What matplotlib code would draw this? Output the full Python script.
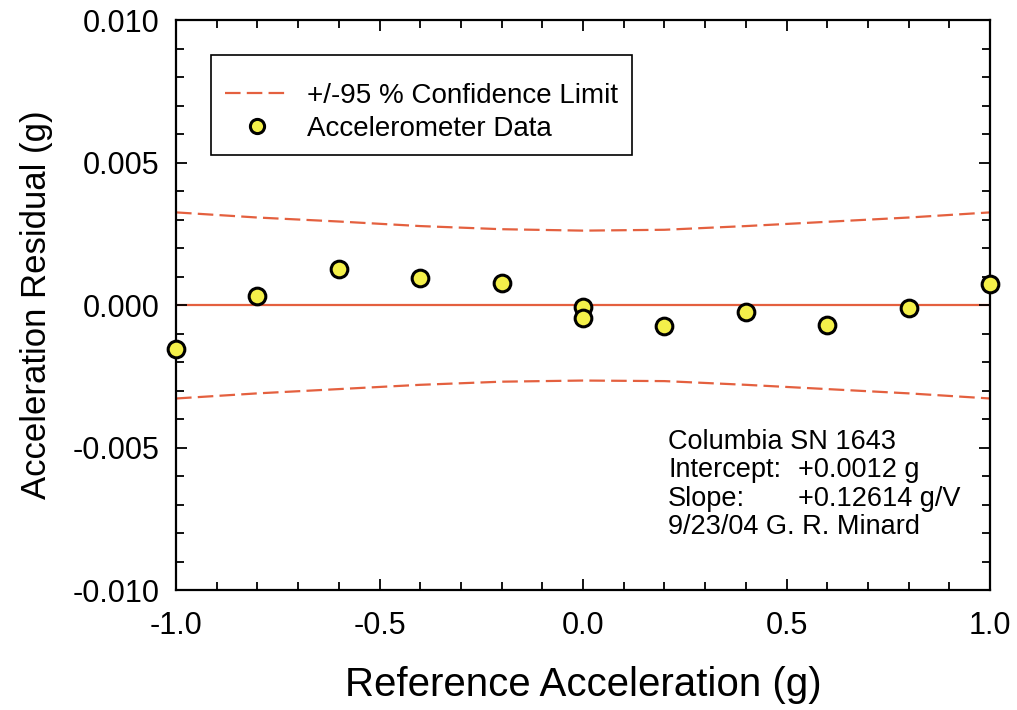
import matplotlib
matplotlib.use("Agg")
import matplotlib.pyplot as plt
from matplotlib.ticker import MultipleLocator, FormatStrFormatter

plt.rcParams['font.family'] = ['Liberation Sans', 'DejaVu Sans']

# Data
ref_accel = [-1.0, -0.8, -0.6, -0.4, -0.2, 0.0, 0.0, 0.2, 0.4, 0.6, 0.8, 1.0]
residual = [-0.00156, 0.00031, 0.00126, 0.00095, 0.00078, -0.00006, -0.00047,
            -0.00073, -0.00026, -0.00071, -0.00010, 0.00073]

band_x = [-1.0, -0.8, -0.6, -0.4, -0.2, 0.0, 0.2, 0.4, 0.6, 0.8, 1.0]
band_upper = [0.00325, 0.00307, 0.00293, 0.00277, 0.00266, 0.00261, 0.00264,
              0.00277, 0.00292, 0.00307, 0.00325]
band_lower = [-0.00328, -0.00310, -0.00295, -0.00280, -0.00269, -0.00265, -0.00267,
              -0.00280, -0.00295, -0.00310, -0.00328]

annot_labels = ["Columbia SN 1643", "Intercept:", "Slope:", "9/23/04 G. R. Minard"]
annot_values = ["", "+0.0012 g", "+0.12614 g/V", ""]

red = '#e4603f'

fig = plt.figure(figsize=(10.17, 7.10), dpi=100)
ax = fig.add_axes([0.1731, 0.169, 0.8004, 0.8028])

ax.axhline(0.0, color=red, lw=1.6, zorder=1)
ax.plot(band_x, band_upper, color=red, lw=1.6, dashes=(7, 2.8), zorder=2,
        label='+/-95 % Confidence Limit')
ax.plot(band_x, band_lower, color=red, lw=1.6, dashes=(7, 2.8), zorder=2)
ax.plot(ref_accel, residual, linestyle='none', marker='o', markersize=12,
        markerfacecolor='#f4f04a', markeredgecolor='black', markeredgewidth=2.2,
        clip_on=False, zorder=5, label='Accelerometer Data')

ax.set_xlim(-1.0, 1.0)
ax.set_ylim(-0.010, 0.010)
ax.xaxis.set_major_locator(MultipleLocator(0.5))
ax.xaxis.set_minor_locator(MultipleLocator(0.1))
ax.yaxis.set_major_locator(MultipleLocator(0.005))
ax.yaxis.set_minor_locator(MultipleLocator(0.001))
ax.xaxis.set_major_formatter(FormatStrFormatter('%.1f'))
ax.yaxis.set_major_formatter(FormatStrFormatter('%.3f'))
ax.tick_params(which='both', direction='in', top=True, right=True, width=1.3)
ax.tick_params(which='major', length=8, labelsize=22)
ax.tick_params(axis='y', which='major', pad=12)
ax.tick_params(axis='x', which='major', pad=15)
ax.tick_params(which='minor', length=6)
for s in ax.spines.values():
    s.set_linewidth(1.6)

ax.set_xlabel('Reference Acceleration (g)', fontsize=29, labelpad=18)
ax.set_ylabel('Acceleration Residual (g)', fontsize=25, labelpad=14)

leg = ax.legend(loc='upper left', bbox_to_anchor=(0.043, 0.939), fontsize=20,
                title=' ', title_fontsize=5,
                frameon=True, fancybox=False, edgecolor='black', framealpha=1,
                borderpad=0.5, handlelength=2.3, handletextpad=0.65,
                labelspacing=0.25, borderaxespad=0, markerscale=0.85)
leg.get_frame().set_linewidth(1.2)
rows_y = [0.2595, 0.2105, 0.1595, 0.1105]
for lab, val, y in zip(annot_labels, annot_values, rows_y):
    ax.text(0.6044, y, lab, transform=ax.transAxes, fontsize=19.5, va='center', ha='left')
    if val:
        ax.text(0.764, y, val, transform=ax.transAxes, fontsize=19.5, va='center', ha='left')

fig.savefig('out.png', dpi=100)
